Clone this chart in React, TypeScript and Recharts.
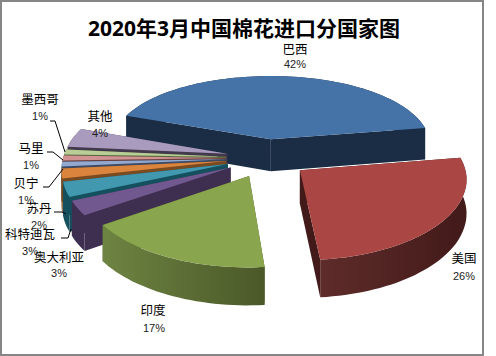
import { Pie, PieChart } from "recharts";

const TITLE = "2020年3月中国棉花进口分国家图";

// paint order runs back to front: counter-clockwise round the pie from 巴西
const countries = ["巴西", "其他", "墨西哥", "马里", "贝宁", "苏丹", "科特迪瓦", "奥大利亚", "印度", "美国"];
const shares = [42, 4, 1, 1, 1, 2, 3, 3, 17, 26];

const topColors = ["#4572A7", "#A99BBD", "#B9CD96", "#D19392", "#93A9CF", "#DB843D", "#4298AF", "#71588F", "#89A54E", "#AA4643"];
const wallLeft = ["#1A2D44", "#423A4C", "#5A6B40", "#6A4040", "#3C4A66", "#7A4A20", "#14505E", "#3E2F50", "#6E8442", "#5E2C2A"];
const wallRight = ["#1A2D44", "#423A4C", "#5A6B40", "#6A4040", "#3C4A66", "#7A4A20", "#14505E", "#3E2F50", "#4A5828", "#421A19"];

const data = countries.map((name, i) => ({ name, value: shares[i], top: topColors[i], wl: wallLeft[i], wr: wallRight[i] }));

// text centres for each callout, name line then percent line
const labelAt: Record<string, [number, number, number, number]> = {
  巴西: [295, 48, 295, 64],
  美国: [464, 257, 464, 276],
  印度: [153, 309, 154, 328],
  奥大利亚: [59, 256, 59, 273],
  科特迪瓦: [30, 233, 30, 251],
  苏丹: [39, 207, 39, 225],
  贝宁: [26, 182, 26, 200],
  马里: [31, 147, 31, 165],
  墨西哥: [40, 98, 40, 116],
  其他: [100, 115, 100, 133],
};

const leaders: Record<string, string> = {
  墨西哥: "50,121 55,121 65,152",
  马里: "47,152 53,152 63,160",
  贝宁: "43,187 49,187 63,169",
  苏丹: "54,212 62,212 66,214",
  科特迪瓦: "61,238 68,238 71,229",
};

// 3D look of the Excel chart
const TILT = 0.475;
const PERSPECTIVE_Y = 0.123;
const PERSPECTIVE_X = 0.1;
const DEPTH = 33;
const EXPLODE = 41;

function Slice3D(props: any) {
  const { cx, cy, outerRadius: R, startAngle, endAngle, payload, index } = props;
  const rad = Math.PI / 180;
  const mid = ((startAngle + endAngle) / 2) * rad;
  const ox = EXPLODE * Math.cos(mid);
  const oz = -EXPLODE * Math.sin(mid);
  const project = (u: number, v: number, drop: number) => {
    const sx = 1 + (PERSPECTIVE_X * v) / R;
    const sy = 1 + (PERSPECTIVE_Y * v) / R;
    return [cx + u * sx, cy + TILT * v * sy + drop * sy];
  };
  const pt = (a: number, r: number, drop: number) =>
    project(ox + r * Math.cos(a * rad), oz - r * Math.sin(a * rad), drop);
  const toPath = (pts: number[][]) =>
    "M" + pts.map((p) => p[0].toFixed(1) + "," + p[1].toFixed(1)).join("L") + "Z";

  const steps = Math.max(2, Math.ceil(Math.abs(endAngle - startAngle) / 2));
  const angles: number[] = [];
  for (let i = 0; i <= steps; i++) angles.push(startAngle + ((endAngle - startAngle) * i) / steps);

  const topArc = angles.map((a) => pt(a, R, 0));
  const lowArc = angles.map((a) => pt(a, R, DEPTH));
  const apex = pt(0, 0, 0);
  const apexLow = pt(0, 0, DEPTH);
  const gid = "wall" + index;
  const fill = `url(#${gid})`;
  const flat = payload.wr;

  return (
    <g>
      <defs>
        <linearGradient id={gid} x1="0" y1="0" x2="1" y2="0">
          <stop offset="0%" stopColor={payload.wl} />
          <stop offset="100%" stopColor={payload.wr} />
        </linearGradient>
      </defs>
      <path d={toPath([apex, topArc[0], lowArc[0], apexLow])} fill={flat} />
      <path d={toPath([apex, topArc[steps], lowArc[steps], apexLow])} fill={flat} />
      <path d={toPath([...topArc, ...[...lowArc].reverse()])} fill={fill} />
      <path d={toPath([apex, ...topArc])} fill={payload.top} />
    </g>
  );
}

function Callout(props: any) {
  const name = props.payload?.name ?? props.name;
  const at = labelAt[name];
  const pct = props.payload?.value ?? props.value;
  return (
    <g>
      {leaders[name] && <polyline points={leaders[name]} fill="none" stroke="#000" strokeWidth={1} />}
      <text x={at[0]} y={at[1]} textAnchor="middle" dominantBaseline="central" fontSize={12.5} fill="#000" fontFamily="'Noto Sans CJK SC'">
        {name}
      </text>
      <text x={at[2]} y={at[3]} textAnchor="middle" dominantBaseline="central" fontSize={11} fill="#222" fontFamily="'Liberation Sans'">
        {pct}%
      </text>
    </g>
  );
}

export default function App() {
  return (
    <div style={{ position: "absolute", left: 0, top: 0, width: 496, height: 356, background: "#fff" }}>
      <div style={{ position: "absolute", left: 0, top: 0, width: 480, height: 352, border: "2px solid #868686" }} />
      <div
        style={{
          position: "absolute",
          left: 2,
          width: 484,
          top: 13,
          textAlign: "center",
          fontFamily: "'Open Sans','Noto Sans CJK SC'",
          fontWeight: 700,
          fontSize: 21,
          lineHeight: "30px",
          whiteSpace: "nowrap",
        }}
      >
        {TITLE}
      </div>
      <div style={{ position: "absolute", left: 0, top: 0 }}>
        <PieChart width={496} height={356} margin={{ top: 0, right: 0, bottom: 0, left: 0 }}>
          <Pie
            data={data}
            dataKey="value"
            nameKey="name"
            cx={267}
            cy={158}
            outerRadius={163}
            startAngle={9}
            endAngle={369}
            shape={Slice3D}
            inactiveShape={Slice3D}
            activeShape={Slice3D}
            label={Callout}
            labelLine={false}
            stroke="none"
            isAnimationActive={false}
          />
        </PieChart>
      </div>
    </div>
  );
}
